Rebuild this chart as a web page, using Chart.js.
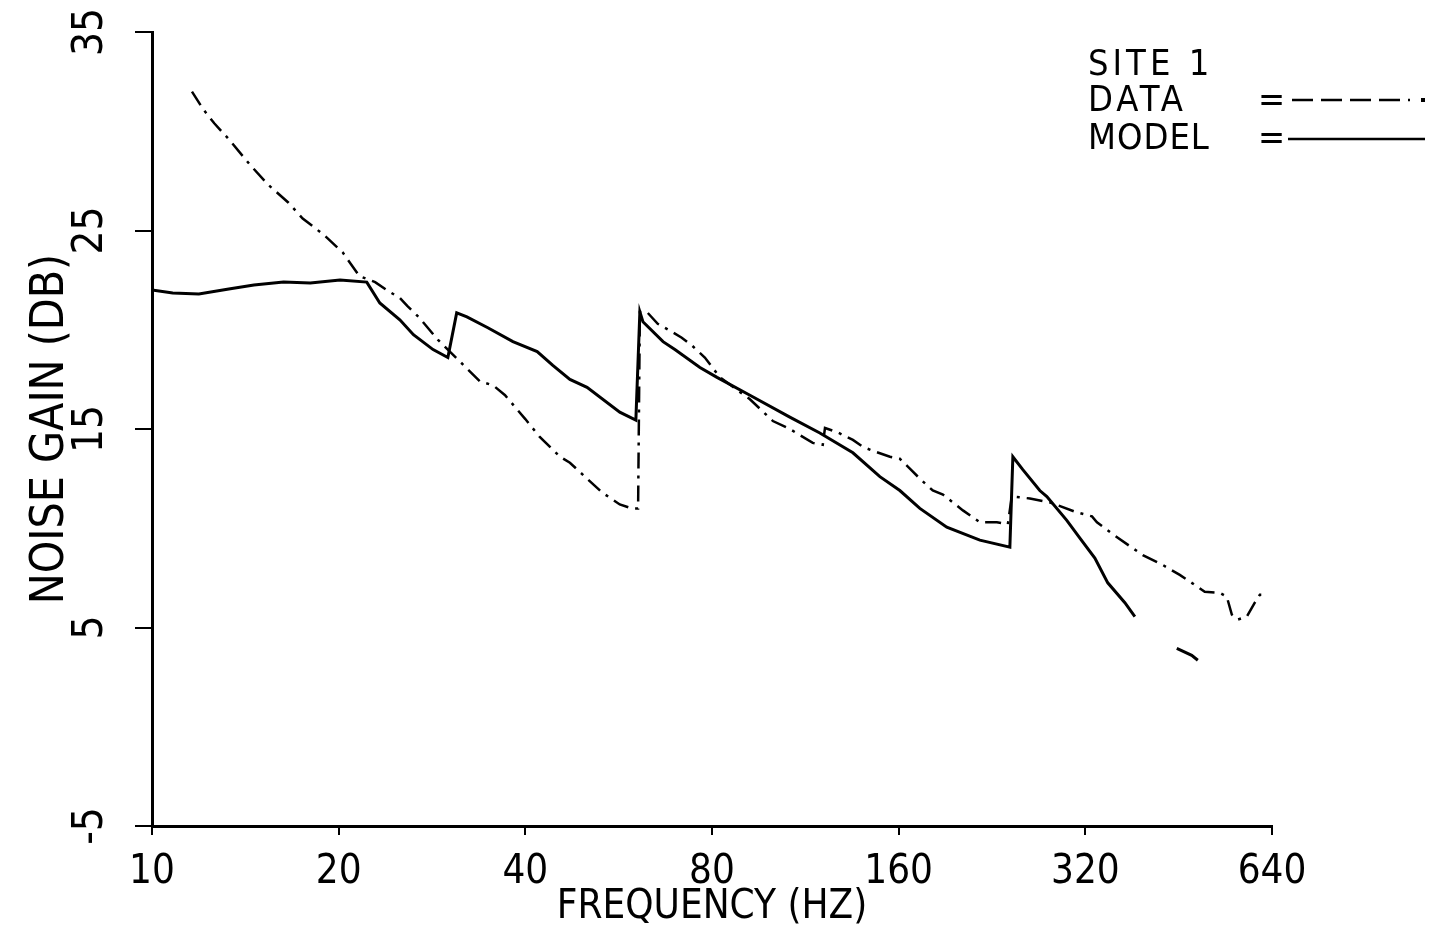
<!DOCTYPE html>
<html>
<head>
<meta charset="utf-8">
<script src="https://cdn.jsdelivr.net/npm/chart.js@4.4.0/dist/chart.umd.min.js"></script>
<style>
  html, body { margin: 0; padding: 0; background: #fff; }
</style>
</head>
<body>
<canvas id="gainChart" width="1429" height="943"></canvas>
<script>
const freqTicks = [10, 20, 40, 80, 160, 320, 640];
const gainTicks = [-5, 5, 15, 25, 35];

// measured noise gain (dash-dot line)
const dataFreq = [11.6, 12.1, 12.6, 13.3, 14.4, 15.4, 16.6, 17.5, 18.9, 20.3, 21.6, 22.9, 23.9, 25.1, 25.8, 27.0, 28.9,
  33.8, 35.5, 37.1, 40.0, 42.2, 45.5, 47.2, 53.2, 56.8, 59.4, 60.8, 61.2, 62.8, 65.4, 68.9, 71.5, 74.3, 77.9, 82.4,
  92.1, 100.3, 106.8, 116.3, 120.7, 121.7, 127.2, 135.0, 140.1, 145.4, 154.9, 160.7, 166.8, 173.1, 181.6, 188.6,
  203.1, 216.3, 230.4, 240.0, 243.5, 260.5, 280.5, 310.1, 328.0, 334.1, 354.4, 377.4, 396.1, 426.6, 454.4, 475.0,
  498.5, 527.0, 541.1, 551.3, 563.7, 582.8, 600.4, 611.7, 630.0];
const dataGain = [32.0, 31.1, 30.4, 29.6, 28.3, 27.3, 26.4, 25.6, 24.8, 23.9, 22.7, 22.4, 22.0, 21.6, 21.2, 20.6, 19.5,
  17.4, 17.2, 16.7, 15.5, 14.6, 13.6, 13.3, 11.8, 11.2, 11.0, 11.0, 20.9, 20.9, 20.3, 19.9, 19.6, 19.2, 18.6, 17.6,
  16.5, 15.4, 15.0, 14.3, 14.2, 15.05, 14.85, 14.45, 14.1, 13.9, 13.6, 13.5, 13.0, 12.5, 11.9, 11.7,
  10.9, 10.3, 10.3, 10.2, 11.6, 11.5, 11.3, 10.8, 10.6, 10.3, 9.7, 9.1, 8.65, 8.15, 7.65, 7.25,
  6.8, 6.75, 6.55, 5.65, 5.4, 5.55, 6.25, 6.65, 6.65];

// model (solid line), null = pen lifted
const modelFreq = [10.0, 10.8, 11.9, 13.3, 14.6, 16.3, 18.0, 20.1, 22.2, 23.3, 25.1, 26.4, 28.4, 30.0, 31.0,
  32.2, 34.8, 38.2, 41.8, 44.3, 47.2, 50.3, 56.8, 60.3, 61.2, 61.9, 66.7, 69.7, 76.5, 81.5, 92.1, 106.8, 119.4,
  135.0, 149.2, 160.7, 173.1, 191.3, 216.3, 241.8, 244.5, 253.7, 270.2, 277.4, 298.7, 313.6, 331.5, 347.8,
  370.6, 384.6, 420, 449.4, 475.0, 485.9];
const modelGain = [22.0, 21.85, 21.8, 22.05, 22.25, 22.4, 22.35, 22.5, 22.4, 21.35, 20.5, 19.75, 19.0, 18.6, 20.85,
  20.65, 20.1, 19.4, 18.9, 18.2, 17.5, 17.1, 15.85, 15.45, 20.9, 20.4, 19.4, 19.0, 18.1, 17.6, 16.7, 15.6, 14.8,
  13.8, 12.6, 11.9, 11.0, 10.05, 9.4, 9.05, 13.6, 12.95, 11.9, 11.6, 10.4, 9.5, 8.5, 7.25,
  6.25, 5.55, null, 3.95, 3.6, 3.35];

const FONT = "'Liberation Sans Narrow', 'DejaVu Sans Condensed', 'Arial Narrow', sans-serif";
const INK = '#000';

const toPoints = (xs, ys) => xs.map((x, i) => ({ x: x, y: ys[i] }));

// legend in the upper right, drawn like the plotter did it
const siteLegend = {
    id: 'siteLegend',
    afterDraw(chart) {
        const c = chart.ctx;
        c.save();
        c.fillStyle = INK;
        c.strokeStyle = INK;
        c.font = '36px ' + FONT;
        c.textBaseline = 'alphabetic';
        c.letterSpacing = '4px';
        c.fillText('SITE 1', 1088, 75);
        c.fillText('DATA', 1088, 111);
        c.letterSpacing = '1px';
        c.fillText('MODEL', 1088, 149);
        c.fillText('=', 1258, 111);
        c.fillText('=', 1258, 149);

        c.lineWidth = 2.5;
        c.setLineDash([21, 8]);
        c.beginPath();
        c.moveTo(1292, 100);
        c.lineTo(1410, 100);
        c.stroke();
        c.setLineDash([]);
        c.fillRect(1421, 98, 4, 4);

        c.beginPath();
        c.moveTo(1288, 139);
        c.lineTo(1425, 139);
        c.stroke();
        c.restore();
    }
};

new Chart(document.getElementById('gainChart'), {
    type: 'line',
    data: {
        datasets: [
            {
                label: 'MODEL',
                data: toPoints(modelFreq, modelGain),
                borderColor: INK,
                borderWidth: 3,
                pointRadius: 0,
                tension: 0,
                spanGaps: false
            },
            {
                label: 'DATA',
                data: toPoints(dataFreq, dataGain),
                borderColor: INK,
                borderWidth: 2.5,
                borderDash: [16, 7, 3, 7],
                pointRadius: 0,
                tension: 0,
                spanGaps: false
            }
        ]
    },
    options: {
        responsive: false,
        animation: false,
        devicePixelRatio: 1,
        layout: { padding: { top: 32, right: 157, bottom: 0, left: 0 } },
        plugins: {
            legend: { display: false },
            tooltip: { enabled: false }
        },
        scales: {
            x: {
                type: 'logarithmic',
                min: 10,
                max: 640,
                afterBuildTicks: axis => { axis.ticks = freqTicks.map(v => ({ value: v })); },
                afterFit: axis => { axis.height = 117; },
                ticks: {
                    autoSkip: false,
                    minRotation: 0,
                    maxRotation: 0,
                    padding: 14,
                    color: INK,
                    font: { family: FONT, size: 40 },
                    callback: v => String(v)
                },
                grid: { drawOnChartArea: false, tickLength: 9, color: INK, lineWidth: 2 },
                border: { color: INK, width: 3 },
                title: {
                    display: true,
                    text: 'FREQUENCY (HZ)',
                    color: INK,
                    font: { family: FONT, size: 40 },
                    padding: { top: 0, bottom: 11 }
                }
            },
            y: {
                min: -5,
                max: 35,
                afterBuildTicks: axis => { axis.ticks = gainTicks.map(v => ({ value: v })); },
                afterFit: axis => {
                    axis.width = 152;
                    // keep the rotated labels from pushing the plot down
                    axis.paddingTop = 0;
                    axis.paddingBottom = 0;
                },
                ticks: {
                    minRotation: 90,
                    maxRotation: 90,
                    crossAlign: 'center',
                    padding: 20,
                    color: INK,
                    font: { family: FONT, size: 42 }
                },
                grid: { drawOnChartArea: false, tickLength: 17, color: INK, lineWidth: 2 },
                border: { color: INK, width: 3 },
                title: {
                    display: true,
                    text: 'NOISE GAIN (DB)',
                    color: INK,
                    font: { family: FONT, size: 46 },
                    padding: { top: 23, bottom: 0 }
                }
            }
        }
    },
    plugins: [siteLegend]
});
</script>
</body>
</html>
